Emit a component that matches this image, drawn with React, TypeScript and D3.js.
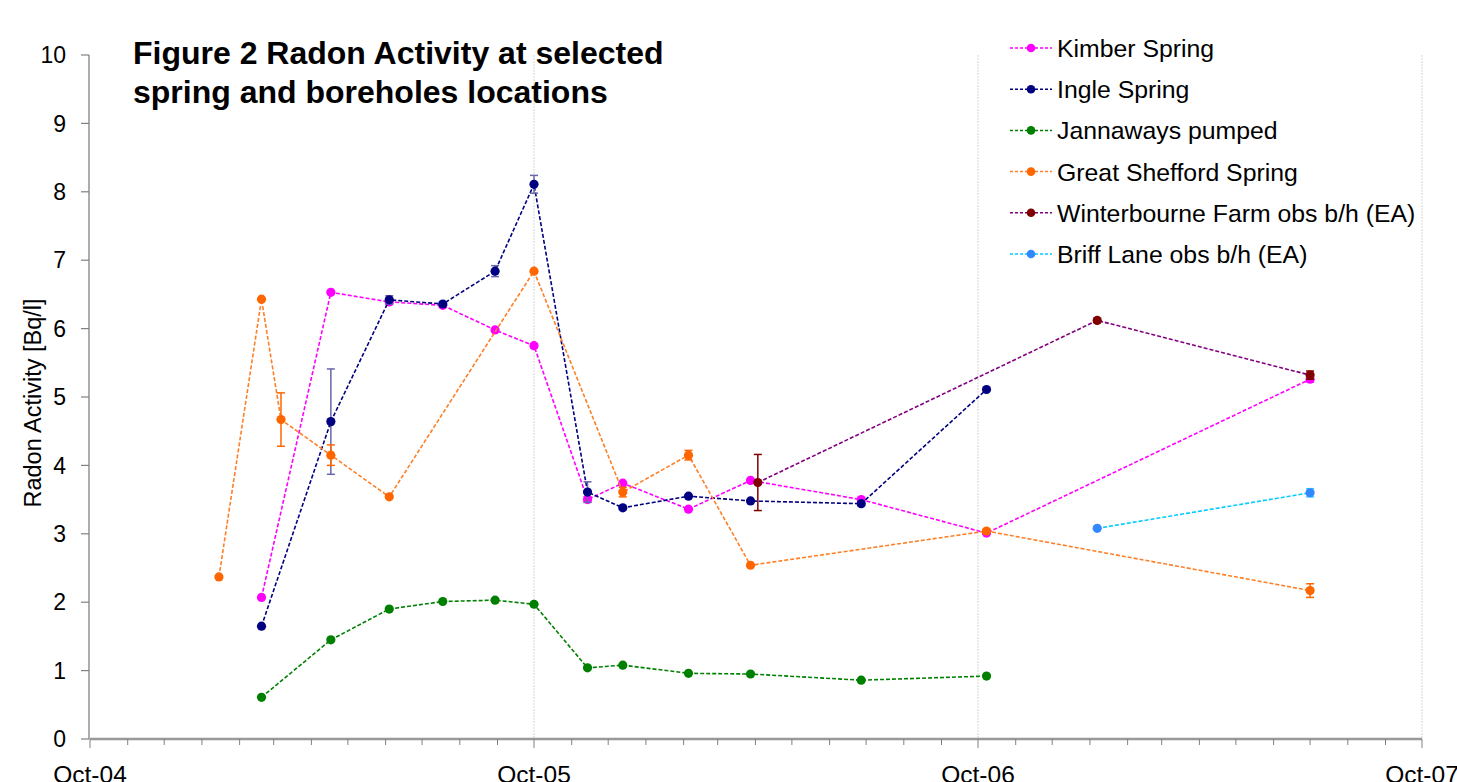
import React from "react";
import * as d3 from "d3";

const seriesNames = [
  "Kimber Spring",
  "Ingle Spring",
  "Jannaways pumped",
  "Great Shefford Spring",
  "Winterbourne Farm obs b/h (EA)",
  "Briff Lane obs b/h (EA)",
];
const lineColors = ["#FF00FF", "#000080", "#008000", "#FF7F27", "#800080", "#00CCFF"];
const markerColors = ["#FF00FF", "#000080", "#008000", "#FF6600", "#800000", "#3388FF"];
const errColors = ["#FF00FF", "#6666AA", "#008000", "#FF6600", "#800000", "#33CCFF"];

const kimberDates = ["2005-02-19", "2005-04-17", "2005-06-04", "2005-07-18", "2005-08-30", "2005-10-01", "2005-11-14", "2005-12-13", "2006-02-05", "2006-03-28", "2006-06-27", "2006-10-08", "2007-07-01"];
const kimberValues = [2.07, 6.53, 6.39, 6.34, 5.98, 5.75, 3.50, 3.74, 3.36, 3.78, 3.50, 3.01, 5.26];
const kimberErrors = [0, 0, 0.03, 0.03, 0, 0.03, 0.04, 0, 0, 0, 0, 0, 0.04];

const ingleDates = ["2005-02-19", "2005-04-17", "2005-06-04", "2005-07-18", "2005-08-30", "2005-10-01", "2005-11-14", "2005-12-13", "2006-02-05", "2006-03-28", "2006-06-27", "2006-10-08"];
const ingleValues = [1.65, 4.64, 6.42, 6.36, 6.84, 8.11, 3.61, 3.38, 3.55, 3.48, 3.44, 5.11];
const ingleErrors = [0, 0.77, 0.06, 0.03, 0.08, 0.13, 0.15, 0, 0, 0, 0.03, 0];

const jannawaysDates = ["2005-02-19", "2005-04-17", "2005-06-04", "2005-07-18", "2005-08-30", "2005-10-01", "2005-11-14", "2005-12-13", "2006-02-05", "2006-03-28", "2006-06-27", "2006-10-08"];
const jannawaysValues = [0.61, 1.45, 1.90, 2.01, 2.03, 1.97, 1.04, 1.08, 0.96, 0.95, 0.86, 0.92];
const jannawaysErrors = [0, 0, 0, 0, 0, 0, 0, 0, 0, 0, 0, 0];

const shefDates = ["2005-01-15", "2005-02-19", "2005-03-07", "2005-04-17", "2005-06-04", "2005-10-01", "2005-12-13", "2006-02-05", "2006-03-28", "2006-10-08", "2007-07-01"];
const shefValues = [2.37, 6.43, 4.67, 4.15, 3.54, 6.84, 3.61, 4.15, 2.54, 3.04, 2.17];
const shefErrors = [0, 0, 0.39, 0.15, 0, 0, 0.07, 0.07, 0, 0.03, 0.1];

const winterDates = ["2006-04-03", "2007-01-07", "2007-07-01"];
const winterValues = [3.75, 6.12, 5.32];
const winterErrors = [0.41, 0.03, 0.06];

const briffDates = ["2007-01-07", "2007-07-01"];
const briffValues = [3.08, 3.60];
const briffErrors = [0, 0.06];

const allDates = [kimberDates, ingleDates, jannawaysDates, shefDates, winterDates, briffDates];
const allValues = [kimberValues, ingleValues, jannawaysValues, shefValues, winterValues, briffValues];
const allErrors = [kimberErrors, ingleErrors, jannawaysErrors, shefErrors, winterErrors, briffErrors];

const yTicks = [0, 1, 2, 3, 4, 5, 6, 7, 8, 9, 10];
const xStart = "2004-10-01";
const xEnd = "2007-10-01";
const titleLines = ["Figure 2 Radon Activity at selected", "spring and boreholes locations"];
const yTitle = "Radon Activity [Bq/l]";

const parse = d3.timeParse("%Y-%m-%d");

export default function App() {
  const W = 1457, H = 782;
  const left = 90, right = 1422, top = 55, bottom = 739;
  const x = d3.scaleTime().domain([parse(xStart)!, parse(xEnd)!]).range([left, right]);
  const y = d3.scaleLinear().domain([0, 10]).range([bottom, top]);
  const months = d3.timeMonth.range(parse(xStart)!, d3.timeDay.offset(parse(xEnd)!, 1));
  const years = months.filter((m) => m.getMonth() === 9);
  const fmt = d3.timeFormat("%b-%y");
  const font = "Liberation Sans, Arial, sans-serif";

  const series = seriesNames.map((name, i) => ({
    name,
    pts: allDates[i].map((d, j) => ({ date: parse(d)!, v: allValues[i][j], e: allErrors[i][j] })),
  }));
  const line = d3
    .line<{ date: Date; v: number }>()
    .x((p) => x(p.date))
    .y((p) => y(p.v));

  const legX = 1010, legY0 = 48, legDy = 41.2;

  return (
    <div style={{ position: "absolute", left: 0, top: 0 }}>
      <svg width={W} height={H} style={{ display: "block", background: "#fff" }}>
        {/* gridlines */}
        {years.slice(1).map((d, i) => (
          <line key={"g" + i} x1={x(d)} x2={x(d)} y1={top} y2={bottom} stroke="#d4d4d4" strokeWidth={1} strokeDasharray="2,1" />
        ))}
        {/* y axis */}
        <line x1={left - 1} x2={left - 1} y1={top} y2={bottom} stroke="#808080" strokeWidth={1.3} />
        {yTicks.map((t) => (
          <g key={"y" + t}>
            <line x1={left - 9} x2={left - 1} y1={y(t)} y2={y(t)} stroke="#808080" strokeWidth={1.2} />
            <text x={66} y={y(t)} dy="0.36em" textAnchor="end" fontFamily={font} fontSize={23} fill="#000">
              {t}
            </text>
          </g>
        ))}
        <text
          transform={`translate(${41},${403}) rotate(-90)`}
          textAnchor="middle"
          fontFamily={font}
          fontSize={23.5}
          fill="#000"
        >
          {yTitle}
        </text>
        {/* x axis */}
        <line x1={left} x2={right} y1={bottom} y2={bottom} stroke="#999" strokeWidth={2.5} />
        {months.map((m, i) => (
          <line key={"m" + i} x1={x(m)} x2={x(m)} y1={bottom} y2={bottom + (m.getMonth() === 9 ? 9 : 6)} stroke="#808080" strokeWidth={1} />
        ))}
        {years.map((d, i) => (
          <text key={"xl" + i} x={x(d)} y={783} textAnchor="middle" fontFamily={font} fontSize={24.5} fill="#000">
            {fmt(d)}
          </text>
        ))}
        {/* series */}
        {series.map((s, i) => (
          <g key={"s" + i}>
            <path d={line(s.pts) || ""} fill="none" stroke={lineColors[i]} strokeWidth={1.6} strokeDasharray="4,2" />
            {s.pts
              .filter((p) => p.e > 0)
              .map((p, j) => (
                <g key={"e" + j} stroke={errColors[i]} strokeWidth={1.5}>
                  <line x1={x(p.date)} x2={x(p.date)} y1={y(p.v - p.e)} y2={y(p.v + p.e)} />
                  <line x1={x(p.date) - 4} x2={x(p.date) + 4} y1={y(p.v - p.e)} y2={y(p.v - p.e)} />
                  <line x1={x(p.date) - 4} x2={x(p.date) + 4} y1={y(p.v + p.e)} y2={y(p.v + p.e)} />
                </g>
              ))}
            {s.pts.map((p, j) => (
              <circle key={"c" + j} cx={x(p.date)} cy={y(p.v)} r={4.6} fill={markerColors[i]} />
            ))}
          </g>
        ))}
        {/* title */}
        {titleLines.map((t, i) => (
          <text key={"t" + i} x={133} y={64 + i * 39} fontFamily={font} fontWeight="bold" fontSize={32} fill="#000">
            {t}
          </text>
        ))}
        {/* legend */}
        {seriesNames.map((n, i) => (
          <g key={"l" + i} transform={`translate(0,${legY0 + i * legDy})`}>
            <line x1={legX} x2={legX + 42} y1={0} y2={0} stroke={lineColors[i]} strokeWidth={1.5} strokeDasharray="3,2" />
            <circle cx={legX + 21} cy={0} r={4.3} fill={markerColors[i]} />
            <text x={legX + 47} y={0} dy="0.36em" fontFamily={font} fontSize={24.8} fill="#000">
              {n}
            </text>
          </g>
        ))}
      </svg>
    </div>
  );
}
